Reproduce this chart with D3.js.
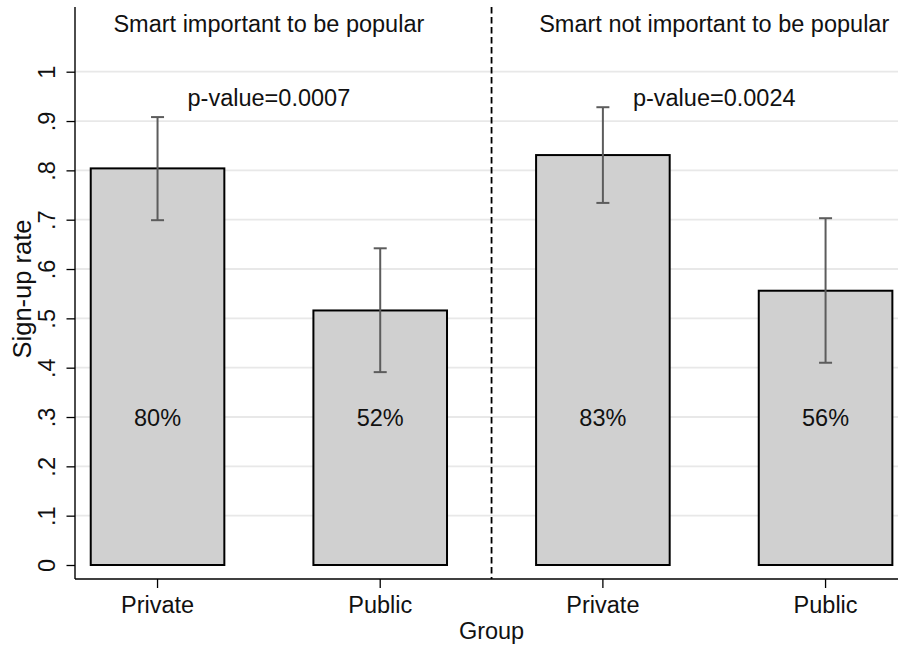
<!DOCTYPE html>
<html>
<head>
<meta charset="utf-8">
<script src="https://cdn.jsdelivr.net/npm/d3@7"></script>
<style>
  html, body { margin: 0; padding: 0; background: #fff; }
  svg { display: block; font-family: "Liberation Sans", Arial, Helvetica, sans-serif; }
</style>
</head>
<body>
<svg id="chart" width="898" height="646"></svg>
<script>
// Sign-up rate by group, split by whether being smart matters for popularity
const panelTitles = ["Smart important to be popular", "Smart not important to be popular"];
const pValues = ["0.0007", "0.0024"];
const categories = ["Private", "Public", "Private", "Public"];
const rates = [0.804, 0.516, 0.831, 0.556];
const ciLow = [0.699, 0.391, 0.734, 0.410];
const ciHigh = [0.908, 0.642, 0.928, 0.703];
const yTicks = [0, 0.1, 0.2, 0.3, 0.4, 0.5, 0.6, 0.7, 0.8, 0.9, 1];
const yTickLabels = ["0", ".1", ".2", ".3", ".4", ".5", ".6", ".7", ".8", ".9", "1"];
const xTitle = "Group";
const yTitle = "Sign-up rate";

const W = 898, H = 646;
const plot = { left: 75, right: 898, top: 7, bottom: 579 };
const fontSize = 23.5;

const svg = d3.select("#chart");

const y = d3.scaleLinear().domain([0, 1]).range([565, 71.7]);
const x = d3.scaleBand()
  .domain(d3.range(categories.length))
  .range([46.2, 936.9])
  .paddingInner(0.4)
  .paddingOuter(0.2);
const cx = i => x(i) + x.bandwidth() / 2;

// horizontal grid lines
svg.append("g")
  .selectAll("line")
  .data(yTicks.filter(t => t > 0))
  .join("line")
  .attr("x1", plot.left).attr("x2", plot.right)
  .attr("y1", d => y(d)).attr("y2", d => y(d))
  .attr("stroke", "#e8e8e8")
  .attr("stroke-width", 1.8);

// bars
svg.append("g")
  .selectAll("rect")
  .data(rates)
  .join("rect")
  .attr("x", (d, i) => x(i))
  .attr("width", x.bandwidth())
  .attr("y", d => y(d))
  .attr("height", d => y(0) - y(d))
  .attr("fill", "#d0d0d0")
  .attr("stroke", "#000")
  .attr("stroke-width", 2);

// confidence intervals
const ci = svg.append("g").attr("stroke", "#5c5c5c").attr("stroke-width", 2).attr("fill", "none");
const capHalf = 6.5;
rates.forEach((d, i) => {
  const c = cx(i);
  ci.append("line").attr("x1", c).attr("x2", c).attr("y1", y(ciLow[i])).attr("y2", y(ciHigh[i]));
  ci.append("line").attr("x1", c - capHalf).attr("x2", c + capHalf).attr("y1", y(ciHigh[i])).attr("y2", y(ciHigh[i]));
  ci.append("line").attr("x1", c - capHalf).attr("x2", c + capHalf).attr("y1", y(ciLow[i])).attr("y2", y(ciLow[i]));
});

// percentage labels inside bars
svg.append("g")
  .selectAll("text")
  .data(rates)
  .join("text")
  .attr("x", (d, i) => cx(i))
  .attr("y", y(0.3) + 8.5)
  .attr("text-anchor", "middle")
  .attr("font-size", fontSize)
  .attr("fill", "#111")
  .text(d => Math.round(d * 100) + "%");

// panel divider
const divX = (cx(1) + cx(2)) / 2;
svg.append("line")
  .attr("x1", divX).attr("x2", divX)
  .attr("y1", plot.top).attr("y2", plot.bottom)
  .attr("stroke", "#000")
  .attr("stroke-width", 1.8)
  .attr("stroke-dasharray", "6.5,3.5");

// panel titles and p-values
panelTitles.forEach((t, k) => {
  const mid = (cx(2 * k) + cx(2 * k + 1)) / 2;
  svg.append("text")
    .attr("x", mid).attr("y", y(1.097) + 8.5)
    .attr("text-anchor", "middle")
    .attr("font-size", fontSize)
    .attr("fill", "#111")
    .text(t);
  svg.append("text")
    .attr("x", mid).attr("y", y(0.947) + 8.5)
    .attr("text-anchor", "middle")
    .attr("font-size", fontSize)
    .attr("fill", "#111")
    .text("p-value=" + pValues[k]);
});

// axes lines
svg.append("line")
  .attr("x1", plot.left).attr("x2", plot.left)
  .attr("y1", plot.top).attr("y2", plot.bottom)
  .attr("stroke", "#000").attr("stroke-width", 1.4);
svg.append("line")
  .attr("x1", plot.left).attr("x2", plot.right)
  .attr("y1", plot.bottom).attr("y2", plot.bottom)
  .attr("stroke", "#000").attr("stroke-width", 1.4);

// y axis ticks and rotated labels
const yAxis = d3.axisLeft(y)
  .tickValues(yTicks)
  .tickSize(8.5)
  .tickSizeOuter(0)
  .tickFormat((d, i) => yTickLabels[i]);
const gy = svg.append("g")
  .attr("transform", `translate(${plot.left},0)`)
  .call(yAxis);
gy.select(".domain").remove();
gy.selectAll(".tick line").attr("stroke", "#000").attr("stroke-width", 1.3);
gy.selectAll(".tick text")
  .attr("font-size", fontSize)
  .attr("fill", "#111")
  .attr("x", null).attr("dy", null)
  .attr("text-anchor", "middle")
  .attr("transform", "translate(-20,0) rotate(-90)");

// x axis ticks and labels
const xAxis = d3.axisBottom(x)
  .tickSize(9)
  .tickSizeOuter(0)
  .tickFormat(i => categories[i]);
const gx = svg.append("g")
  .attr("transform", `translate(0,${plot.bottom})`)
  .call(xAxis);
gx.select(".domain").remove();
gx.selectAll(".tick line").attr("stroke", "#000").attr("stroke-width", 1.3);
gx.selectAll(".tick text")
  .attr("font-size", fontSize)
  .attr("fill", "#111")
  .attr("dy", null)
  .attr("y", 34);

// axis titles
svg.append("text")
  .attr("x", divX).attr("y", 639)
  .attr("text-anchor", "middle")
  .attr("font-size", fontSize)
  .attr("fill", "#111")
  .text(xTitle);
svg.append("text")
  .attr("transform", `translate(31,${(plot.top + plot.bottom) / 2 - 4}) rotate(-90)`)
  .attr("text-anchor", "middle")
  .attr("font-size", 25.5)
  .attr("fill", "#111")
  .text(yTitle);
</script>
</body>
</html>
